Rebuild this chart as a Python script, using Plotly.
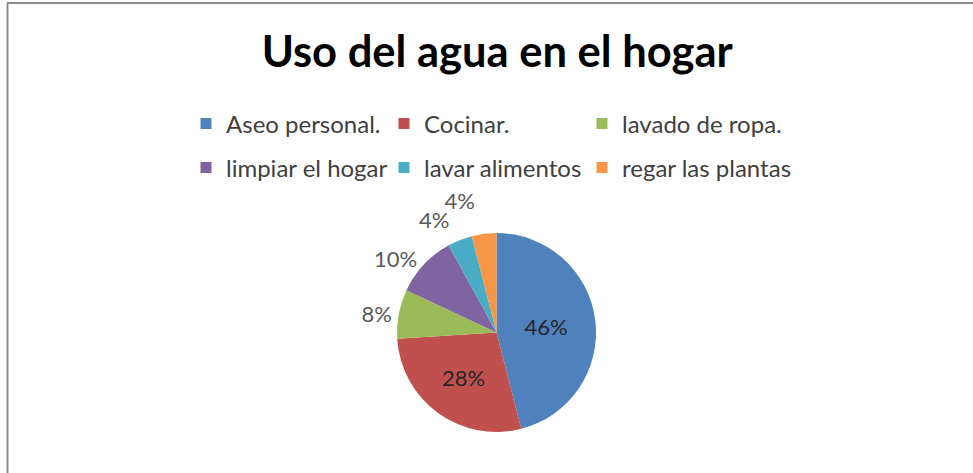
import plotly.graph_objects as go

categories = ["Aseo personal.", "Cocinar.", "lavado de ropa.",
              "limpiar el hogar", "lavar alimentos", "regar las plantas"]
values = [46, 28, 8, 10, 4, 4]
colors = ["#4F81BD", "#C0504D", "#9BBB59", "#8064A2", "#4BACC6", "#F79646"]
# label placement per slice: inside / outside on the pie itself,
# or "far" = outside label set a little further out (like the original)
label_modes = ["inside", "inside", "outside", "outside", "far", "far"]
far_scale = [1.0, 1.0, 1.0, 1.0, 1.10, 1.20]
title_text = "Uso del agua en el hogar"

# legend layout: (column left x, row y) in pixels
legend_cols = [186, 384, 582]
legend_rows = [124, 168]

W, H = 973, 473
FONT = "Lato, 'Open Sans', sans-serif"
LABEL_SIZE = 22

# pie box in pixels
CX, CY, R = 496.5, 332.5, 99.5


def px(x):
    return x / W


def py(y):
    return 1 - y / H


def domain_for(scale):
    r = R * scale
    return dict(x=[px(CX - r), px(CX + r)], y=[py(CY + r), py(CY - r)])


fig = go.Figure()

main_pos = [m if m in ("inside", "outside") else "none" for m in label_modes]
fig.add_trace(go.Pie(
    labels=categories,
    values=values,
    sort=False,
    direction="clockwise",
    rotation=0,
    marker=dict(colors=colors, line=dict(width=0)),
    texttemplate="%{percent:.0%}",
    textposition=main_pos,
    insidetextorientation="horizontal",
    insidetextfont=dict(family=FONT, size=LABEL_SIZE, color="#262626"),
    outsidetextfont=dict(family=FONT, size=LABEL_SIZE, color="#595959"),
    showlegend=False,
    hoverinfo="label+percent",
    domain=domain_for(1.0),
))

# transparent label carriers for the small top slices
for i, mode in enumerate(label_modes):
    if mode != "far":
        continue
    pos = ["outside" if j == i else "none" for j in range(len(values))]
    fig.add_trace(go.Pie(
        labels=categories,
        values=values,
        sort=False,
        direction="clockwise",
        rotation=0,
        marker=dict(colors=["rgba(0,0,0,0)"] * len(values), line=dict(width=0)),
        texttemplate="%{percent:.0%}",
        textposition=pos,
        outsidetextfont=dict(family=FONT, size=LABEL_SIZE, color="#595959"),
        showlegend=False,
        hoverinfo="skip",
        domain=domain_for(far_scale[i]),
    ))

# legend: one legend per entry so the grid matches the original
legend_layout = {}
for i, (name, col) in enumerate(zip(categories, colors)):
    key = "legend" if i == 0 else f"legend{i + 1}"
    fig.add_trace(go.Scatter(
        x=[None], y=[None], mode="markers", name=name,
        marker=dict(symbol="square", size=11, color=col),
        legend=key,
        hoverinfo="skip",
    ))
    legend_layout[key] = dict(
        x=px(legend_cols[i % 3]),
        y=py(legend_rows[i // 3]),
        xanchor="left",
        yanchor="middle",
        orientation="h",
        font=dict(family=FONT, size=24, color="#404040"),
        bgcolor="rgba(0,0,0,0)",
        itemclick=False,
        itemdoubleclick=False,
    )

fig.update_layout(
    width=W, height=H,
    margin=dict(l=0, r=0, t=0, b=0),
    paper_bgcolor="white",
    plot_bgcolor="white",
    title=dict(
        text=f"<b>{title_text}</b>",
        x=0.511, xanchor="center",
        y=py(52), yanchor="middle", yref="container",
        font=dict(family=FONT, size=43.5, color="#000000"),
    ),
    xaxis=dict(visible=False),
    yaxis=dict(visible=False),
    shapes=[
        dict(type="line", xref="paper", yref="paper",
             x0=px(7), x1=1.0, y0=py(3), y1=py(3),
             line=dict(color="#8c8c8c", width=2)),
        dict(type="line", xref="paper", yref="paper",
             x0=px(7.5), x1=px(7.5), y0=py(3), y1=0,
             line=dict(color="#8c8c8c", width=2)),
    ],
    **legend_layout,
)

fig.write_html(
    "out.html",
    config={"displayModeBar": False},
    post_script="document.body.style.margin='0';document.body.style.overflow='hidden';",
)
